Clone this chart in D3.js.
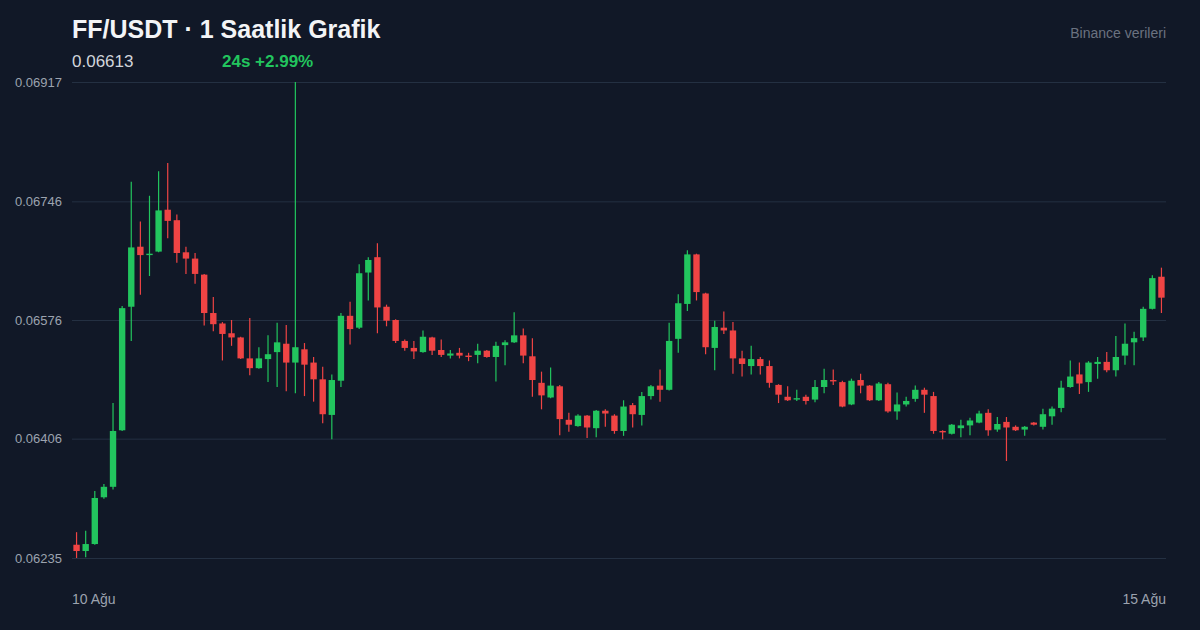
<!DOCTYPE html>
<html>
<head>
<meta charset="utf-8">
<script src="https://cdn.jsdelivr.net/npm/d3@7/dist/d3.min.js"></script>
<style>
  html, body { margin: 0; padding: 0; background: #111827; }
  svg { display: block; }
  text { font-family: "Liberation Sans", Arial, Helvetica, sans-serif; }
</style>
</head>
<body>
<svg id="chart" width="1200" height="630"></svg>
<script>
const titleText = "FF/USDT · 1 Saatlik Grafik";
const lastPriceText = "0.06613";
const changeText = "24s +2.99%";
const sourceText = "Binance verileri";
const xLabels = ["10 Ağu", "15 Ağu"];
const yTickLabels = ["0.06235", "0.06406", "0.06576", "0.06746", "0.06917"];
const yTickValues = [0.06235, 0.06406, 0.06576, 0.06746, 0.06917];

const opens = [0.06254,0.06245,0.06255,0.06322,0.06337,0.06418,0.06595,0.06681,0.06669,0.06674,
0.06734,0.06719,0.06673,0.06664,0.06641,0.06586,0.06571,0.06557,0.06551,0.06521,
0.06507,0.06520,0.06530,0.06542,0.06515,0.06534,0.06515,0.06491,0.06440,0.06489,
0.06582,0.06565,0.06644,0.06666,0.06595,0.06576,0.06546,0.06536,0.06530,0.06551,
0.06533,0.06525,0.06529,0.06525,0.06526,0.06532,0.06523,0.06540,0.06544,0.06554,
0.06524,0.06486,0.06465,0.06481,0.06433,0.06424,0.06439,0.06421,0.06446,0.06439,
0.06417,0.06454,0.06440,0.06467,0.06482,0.06476,0.06549,0.06599,0.06670,0.06614,
0.06536,0.06565,0.06561,0.06521,0.06510,0.06520,0.06510,0.06483,0.06466,0.06462,
0.06466,0.06462,0.06480,0.06490,0.06487,0.06455,0.06490,0.06482,0.06461,0.06484,
0.06445,0.06455,0.06463,0.06476,0.06467,0.06417,0.06413,0.06421,0.06425,0.06429,
0.06443,0.06419,0.06430,0.06423,0.06419,0.06429,0.06423,0.06438,0.06450,0.06480,
0.06498,0.06487,0.06513,0.06516,0.06504,0.06525,0.06544,0.06551,0.06592,0.06638];

const highs = [0.06272,0.06274,0.06331,0.06341,0.06457,0.06596,0.06774,0.06717,0.06754,0.06789,
0.06801,0.06727,0.06681,0.06672,0.06642,0.06609,0.06573,0.06576,0.06552,0.06579,
0.06537,0.06554,0.06572,0.06569,0.06917,0.06543,0.06523,0.06509,0.06498,0.06586,
0.06602,0.06656,0.06666,0.06686,0.06598,0.06577,0.06548,0.06546,0.06561,0.06552,
0.06548,0.06533,0.06536,0.06529,0.06542,0.06533,0.06545,0.06547,0.06587,0.06564,
0.06550,0.06502,0.06508,0.06483,0.06443,0.06441,0.06440,0.06447,0.06448,0.06441,
0.06461,0.06457,0.06473,0.06483,0.06505,0.06572,0.06613,0.06676,0.06671,0.06615,
0.06575,0.06588,0.06573,0.06532,0.06539,0.06523,0.06518,0.06484,0.06481,0.06476,
0.06469,0.06490,0.06506,0.06505,0.06489,0.06492,0.06499,0.06483,0.06487,0.06486,
0.06472,0.06466,0.06482,0.06479,0.06473,0.06418,0.06427,0.06433,0.06436,0.06446,
0.06448,0.06437,0.06437,0.06425,0.06424,0.06430,0.06449,0.06452,0.06489,0.06518,
0.06515,0.06517,0.06523,0.06530,0.06553,0.06571,0.06559,0.06595,0.06640,0.06651];

const lows = [0.06235,0.06236,0.06254,0.06320,0.06333,0.06417,0.06546,0.06612,0.06639,0.06673,
0.06693,0.06658,0.06642,0.06628,0.06568,0.06560,0.06518,0.06539,0.06520,0.06497,
0.06506,0.06487,0.06480,0.06474,0.06471,0.06467,0.06459,0.06428,0.06405,0.06480,
0.06541,0.06563,0.06604,0.06557,0.06567,0.06543,0.06532,0.06520,0.06529,0.06526,
0.06523,0.06521,0.06521,0.06517,0.06514,0.06522,0.06488,0.06511,0.06543,0.06514,
0.06466,0.06448,0.06464,0.06411,0.06416,0.06423,0.06407,0.06408,0.06423,0.06413,
0.06410,0.06422,0.06425,0.06462,0.06459,0.06475,0.06529,0.06589,0.06604,0.06527,
0.06504,0.06556,0.06499,0.06495,0.06498,0.06498,0.06479,0.06457,0.06460,0.06460,
0.06455,0.06458,0.06471,0.06483,0.06451,0.06454,0.06471,0.06460,0.06460,0.06443,
0.06433,0.06452,0.06459,0.06443,0.06413,0.06405,0.06412,0.06408,0.06411,0.06428,
0.06410,0.06416,0.06374,0.06417,0.06410,0.06425,0.06419,0.06426,0.06444,0.06479,
0.06470,0.06473,0.06492,0.06501,0.06495,0.06512,0.06511,0.06546,0.06591,0.06586];

const closes = [0.06245,0.06255,0.06321,0.06337,0.06417,0.06593,0.06680,0.06669,0.06671,0.06733,
0.06718,0.06672,0.06664,0.06642,0.06586,0.06570,0.06556,0.06551,0.06521,0.06507,
0.06521,0.06527,0.06544,0.06515,0.06537,0.06512,0.06491,0.06441,0.06490,0.06582,
0.06563,0.06643,0.06662,0.06594,0.06575,0.06546,0.06536,0.06531,0.06552,0.06532,
0.06526,0.06528,0.06525,0.06523,0.06532,0.06523,0.06539,0.06544,0.06554,0.06525,
0.06490,0.06468,0.06482,0.06434,0.06426,0.06439,0.06422,0.06446,0.06442,0.06417,
0.06452,0.06441,0.06467,0.06481,0.06476,0.06546,0.06600,0.06670,0.06616,0.06537,
0.06566,0.06561,0.06521,0.06513,0.06520,0.06510,0.06486,0.06469,0.06461,0.06464,
0.06460,0.06480,0.06490,0.06488,0.06452,0.06489,0.06482,0.06461,0.06485,0.06445,
0.06455,0.06460,0.06476,0.06469,0.06417,0.06415,0.06426,0.06425,0.06432,0.06442,
0.06418,0.06427,0.06422,0.06418,0.06423,0.06426,0.06441,0.06449,0.06479,0.06495,
0.06485,0.06515,0.06516,0.06504,0.06523,0.06542,0.06550,0.06592,0.06636,0.06608];

(function () {
const candles = opens.map((o, i) => ({ i, o, h: highs[i], l: lows[i], c: closes[i] }));

const W = 1200, H = 630;
const mLeft = 72, mRight = 1166, mTop = 82, mBottom = 558;
const UP = "#22c55e", DOWN = "#ef4444";

const svg = d3.select("#chart");
svg.append("rect").attr("width", W).attr("height", H).attr("fill", "#111827");

const x = d3.scaleBand()
  .domain(candles.map(d => d.i))
  .range([mLeft, mRight])
  .paddingInner(0.3)
  .paddingOuter(0.15);

const y = d3.scaleLinear()
  .domain([d3.min(lows), d3.max(highs)])
  .range([mBottom, mTop]);

const yAxis = d3.axisLeft(y)
  .tickValues(yTickValues)
  .tickSize(-(mRight - mLeft))
  .tickFormat((d, i) => yTickLabels[i]);

const gy = svg.append("g").attr("transform", `translate(${mLeft},0)`).call(yAxis);
gy.select(".domain").remove();
gy.selectAll(".tick line").attr("stroke", "#243042").attr("stroke-width", 1);
gy.selectAll(".tick text")
  .attr("x", -10)
  .attr("fill", "#9ca3af")
  .attr("font-size", 13)
  .attr("font-family", "'Liberation Sans', Arial, sans-serif");

const g = svg.append("g");
const bw = x.bandwidth();
const cg = g.selectAll("g.candle").data(candles).join("g").attr("class", "candle");

cg.append("line")
  .attr("x1", d => x(d.i) + bw / 2)
  .attr("x2", d => x(d.i) + bw / 2)
  .attr("y1", d => y(d.h))
  .attr("y2", d => y(d.l))
  .attr("stroke", d => d.c >= d.o ? UP : DOWN)
  .attr("stroke-width", 1.2);

cg.append("rect")
  .attr("x", d => x(d.i))
  .attr("width", bw)
  .attr("y", d => y(Math.max(d.o, d.c)))
  .attr("height", d => Math.max(1.2, Math.abs(y(d.o) - y(d.c))))
  .attr("fill", d => d.c >= d.o ? UP : DOWN);

svg.append("text").attr("x", mLeft).attr("y", 604)
  .attr("fill", "#9ca3af").attr("font-size", 14).text(xLabels[0]);
svg.append("text").attr("x", mRight).attr("y", 604).attr("text-anchor", "end")
  .attr("fill", "#9ca3af").attr("font-size", 14).text(xLabels[1]);

svg.append("text").attr("x", 72).attr("y", 38)
  .attr("fill", "#f3f4f6").attr("font-size", 25).attr("font-weight", "bold")
  .text(titleText);
svg.append("text").attr("x", 72).attr("y", 67)
  .attr("fill", "#d1d5db").attr("font-size", 17)
  .text(lastPriceText);
svg.append("text").attr("x", 222).attr("y", 67)
  .attr("fill", UP).attr("font-size", 17).attr("font-weight", "bold")
  .text(changeText);
svg.append("text").attr("x", 1166).attr("y", 38).attr("text-anchor", "end")
  .attr("fill", "#6b7280").attr("font-size", 14)
  .text(sourceText);
})();
</script>
</body>
</html>
